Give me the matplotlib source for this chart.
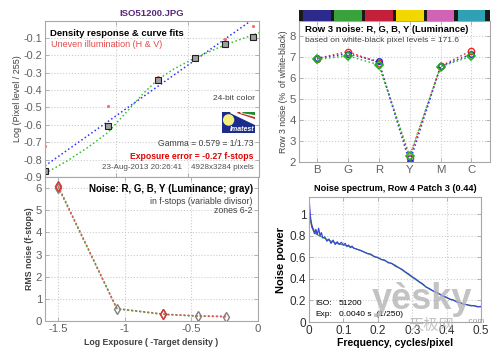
import numpy as np
import matplotlib.pyplot as plt
from matplotlib.patches import Polygon, Ellipse

plt.rcParams['font.family'] = ['Liberation Sans', 'DejaVu Sans']
plt.rcParams['axes.edgecolor'] = '#a8a8a8'
plt.rcParams['xtick.color'] = '#a8a8a8'
plt.rcParams['ytick.color'] = '#a8a8a8'
plt.rcParams['xtick.labelcolor'] = '#606060'
plt.rcParams['ytick.labelcolor'] = '#606060'
plt.rcParams['xtick.direction'] = 'in'
plt.rcParams['ytick.direction'] = 'in'
plt.rcParams['xtick.top'] = True
plt.rcParams['ytick.right'] = True
plt.rcParams['xtick.major.size'] = 3
plt.rcParams['ytick.major.size'] = 3

# density response (top left)
dens_x = [-1.5, -1.06, -0.71, -0.45, -0.24, -0.04]
dens_y = [-0.865, -0.605, -0.34, -0.215, -0.135, -0.094]
uneven_x = [-1.5, -1.06, -0.71, -0.45, -0.24, -0.04]
uneven_y = [-0.72, -0.49, -0.325, -0.21, -0.105, -0.03]
fit_x = [-1.5, 0.0]
fit_y = [-0.836, 0.032]
curve_x = [-1.5, -1.35, -1.2, -1.06, -0.9, -0.8, -0.71, -0.6, -0.45, -0.35, -0.24, -0.12, 0.0]
curve_y = [-0.88, -0.81, -0.73, -0.645, -0.5, -0.41, -0.34, -0.28, -0.215, -0.18, -0.14, -0.105, -0.07]

# noise in f-stops (bottom left)
fstop_x = [-1.5, -1.06, -0.71, -0.45, -0.24]
fstop_gray = [6.02, 0.55, 0.30, 0.22, 0.20]
fstop_red = [6.08, 0.56, 0.31, 0.23, 0.20]
fstop_green = [6.05, 0.55, 0.30, 0.22, 0.20]

# row 3 noise (top right)
patches = ['B', 'G', 'R', 'Y', 'M', 'C']
patch_colors = ['#2c2a8c', '#3aa23a', '#c4203c', '#f2d800', '#d263b4', '#2ea2b4']
row3_red = [6.92, 7.25, 6.72, 2.22, 6.55, 7.30]
row3_green = [6.88, 7.05, 6.62, 2.30, 6.54, 7.03]
row3_blue = [6.93, 7.15, 6.78, 2.00, 6.55, 7.13]

# noise spectrum (bottom right)
freq = [0.0, 0.004, 0.008, 0.012, 0.016, 0.02, 0.024, 0.028, 0.032, 0.036, 0.04,
        0.046, 0.052, 0.058, 0.064, 0.07, 0.076, 0.082, 0.088, 0.094, 0.1,
        0.105, 0.11, 0.115, 0.12, 0.125, 0.13, 0.14, 0.15, 0.16, 0.17, 0.18, 0.19, 0.2,
        0.21, 0.22, 0.23, 0.24, 0.25, 0.26, 0.27, 0.28, 0.29, 0.3,
        0.31, 0.32, 0.33, 0.34, 0.35, 0.36, 0.37, 0.38, 0.39, 0.4,
        0.41, 0.42, 0.43, 0.44, 0.45, 0.46, 0.47, 0.48, 0.49, 0.5]
power_blue = [1.15, 0.98, 0.90, 0.86, 0.82, 0.86, 0.81, 0.87, 0.80, 0.83, 0.78,
              0.79, 0.75, 0.77, 0.73, 0.76, 0.72, 0.745, 0.72, 0.74, 0.715,
              0.73, 0.70, 0.715, 0.69, 0.705, 0.685, 0.675, 0.665, 0.65, 0.635, 0.63, 0.605, 0.60,
              0.58, 0.575, 0.55, 0.545, 0.52, 0.505, 0.49, 0.465, 0.445, 0.42,
              0.40, 0.375, 0.355, 0.325, 0.31, 0.29, 0.275, 0.26, 0.24, 0.23,
              0.21, 0.205, 0.185, 0.18, 0.165, 0.16, 0.15, 0.152, 0.14, 0.145]
green_f = [0.0, 0.005, 0.01, 0.02, 0.03, 0.05, 0.08, 0.12, 0.16, 0.2, 0.25, 0.3, 0.35, 0.4, 0.45, 0.5]
power_green = [1.0, 0.93, 0.88, 0.82, 0.80, 0.77, 0.73, 0.70, 0.65, 0.595, 0.53, 0.415, 0.305, 0.225, 0.165, 0.14]
red_f = [0.0, 0.004, 0.008, 0.014, 0.02]
power_red = [1.05, 0.95, 0.88, 0.84, 0.82]

fig = plt.figure(figsize=(5.0, 3.53), dpi=100)

def style(ax, fs=7.5):
    ax.tick_params(labelsize=fs, pad=2, width=0.6)
    for s in ax.spines.values():
        s.set_linewidth(0.8)
    ax.grid(True, color='#cccccc', linestyle=':', linewidth=0.8)

# ---- top left
ax1 = fig.add_axes([0.09, 0.4986, 0.428, 0.443])
ax1.plot(fit_x, fit_y, ':', color='#3030ff', lw=1.1)
ax1.plot(curve_x, curve_y, ':', color='#30c030', lw=1.1)
ax1.plot(uneven_x, uneven_y, '.', color='#f07070', ms=2.5)
ax1.plot(dens_x, dens_y, 's', color='#a0a0a0', mec='#202020', ms=5, mew=0.8)
ax1.set_xlim(-1.5, 0)
ax1.set_ylim(-0.9, 0)
ax1.set_xticks([-1.0, -0.5])
ax1.set_xticklabels([])
ax1.set_yticks(np.arange(-0.9, -0.05, 0.1))
ax1.set_yticklabels(['-0.9', '-0.8', '-0.7', '-0.6', '-0.5', '-0.4', '-0.3', '-0.2', '-0.1'])
style(ax1, 7.8)
ax1.set_ylabel('Log (Pixel level / 255)', fontsize=6.5, color='#404040', labelpad=1)
ax1.set_title('ISO51200.JPG', fontsize=6.8, fontweight='bold', color='#5a2a7a', pad=3)
ax1.text(0.023, 0.92, 'Density response & curve fits', transform=ax1.transAxes,
         fontsize=6.8, fontweight='bold', va='center')
ax1.text(0.03, 0.85, 'Uneven illumination (H & V)', transform=ax1.transAxes,
         fontsize=6.5, color='#e84848', va='center')
ax1.text(0.98, 0.505, '24-bit color', transform=ax1.transAxes, fontsize=6,
         color='#404040', ha='right', va='center')
ax1.text(0.975, 0.211, 'Gamma = 0.579 = 1/1.73', transform=ax1.transAxes, fontsize=6.2,
         color='#404040', ha='right', va='center')
ax1.text(0.975, 0.134, 'Exposure error = -0.27 f-stops', transform=ax1.transAxes, fontsize=6.2,
         color='#e00000', fontweight='bold', ha='right', va='center')
ax1.text(0.975, 0.058, '23-Aug-2013 20:26:41    4928x3284 pixels', transform=ax1.transAxes,
         fontsize=5.8, color='#505050', ha='right', va='center')

# imatest logo
lg = fig.add_axes([0.444, 0.623, 0.066, 0.06])
lg.set_xlim(0, 1)
lg.set_ylim(0, 1)
lg.set_facecolor('#1c2c8c')
lg.add_patch(Polygon([(0.25, 1), (1, 1), (1, 0.45)], color='white'))
lg.add_patch(Polygon([(0.45, 1), (1, 1), (1, 0.72)], color='#c03030'))
lg.add_patch(Polygon([(0.55, 1), (1, 1), (1, 0.8)], color='white'))
lg.add_patch(Polygon([(0.6, 1), (1, 1), (1, 0.88)], color='#208a30'))
lg.add_patch(Ellipse((0.2, 0.62), 0.3, 0.48, color='#f4f080'))
lg.text(0.6, 0.18, 'Imatest', color='white', fontsize=5, fontstyle='italic',
        fontweight='bold', ha='center', va='center')
lg.set_xticks([])
lg.set_yticks([])
for s in lg.spines.values():
    s.set_visible(False)

# ---- bottom left
ax2 = fig.add_axes([0.09, 0.0907, 0.426, 0.408])
ax2.plot(fstop_x, fstop_gray, ':', color='#909090', lw=1.1, marker='d', ms=5,
         mfc='none', mec='#808080', mew=1)
ax2.plot(fstop_x, fstop_green, ':', color='#40c040', lw=1.1)
ax2.plot(fstop_x, fstop_red, ':', color='#e05050', lw=1.1, marker='d', ms=5,
         mfc='none', mec='#e03030', mew=1, markevery=[0, 2])
ax2.set_xlim(-1.6, 0)
ax2.set_ylim(0, 6.5)
ax2.set_xticks([-1.5, -1.0, -0.5, 0])
ax2.set_xticklabels(['-1.5', '-1', '-0.5', '0'])
ax2.set_yticks(range(0, 7))
style(ax2, 8.2)
ax2.set_xlabel('Log Exposure ( -Target density )', fontsize=6.3, fontweight='bold',
               color='#404040', labelpad=3)
ax2.set_ylabel('RMS noise (f-stops)', fontsize=6.3, fontweight='bold', color='#404040', labelpad=1)
ax2.text(0.976, 0.917, 'Noise: R, G, B, Y (Luminance; gray)', transform=ax2.transAxes,
         fontsize=7, fontweight='bold', ha='right', va='center')
ax2.text(0.976, 0.833, 'in f-stops (variable divisor)', transform=ax2.transAxes,
         fontsize=6.3, color='#404040', ha='right', va='center')
ax2.text(0.976, 0.77, 'zones 6-2', transform=ax2.transAxes,
         fontsize=6.3, color='#404040', ha='right', va='center')

# ---- top right
pos = np.arange(1, len(patches) + 1)
ax3 = fig.add_axes([0.598, 0.5397, 0.382, 0.401])
ax3.plot(pos, row3_red, ':', color='#ff3030', lw=1.1, marker='o', ms=4.5,
         mfc='none', mec='#ff2020', mew=1)
ax3.plot(pos, row3_blue, ':', color='#3030ff', lw=1.1, marker='o', ms=4,
         mfc='none', mec='#2020e0', mew=1)
ax3.plot(pos, row3_green, ':', color='#30c030', lw=1.1, marker='D', ms=4,
         mfc='none', mec='#20b020', mew=1.2)
ax3.set_xlim(0.42, 6.6)
ax3.set_ylim(2, 8.7)
ax3.set_xticks(pos)
ax3.set_xticklabels(patches)
ax3.set_yticks(range(2, 9))
style(ax3, 8.2)
ax3.set_ylabel('Row 3 noise (%  of white-black)', fontsize=6.3, color='#404040', labelpad=1)
ax3.text(0.03, 0.936, 'Row 3 noise: R, G, B, Y (Luminance)', transform=ax3.transAxes,
         fontsize=6.8, fontweight='bold', va='center')
ax3.text(0.03, 0.859, 'based on white-black pixel levels = 171.6', transform=ax3.transAxes,
         fontsize=6.0, color='#404040', va='center')

# colour bar above top right
cb = fig.add_axes([0.598, 0.9405, 0.382, 0.031])
cb.set_facecolor('#1a1a1a')
cb.bar(pos, [1] * len(pos), width=0.9, color=patch_colors)
cb.set_xlim(0.42, 6.6)
cb.set_ylim(0, 1)
cb.set_xticks([])
cb.set_yticks([])
for s in cb.spines.values():
    s.set_visible(False)

# ---- bottom right
ax4 = fig.add_axes([0.618, 0.0878, 0.344, 0.354])
ax4.plot(red_f, power_red, color='#e02020', lw=0.8)
ax4.plot(green_f, power_green, color='#30b030', lw=0.8)
ax4.plot(freq, power_blue, color='#4040e0', lw=0.9)
ax4.set_xlim(0, 0.5)
ax4.set_ylim(0, 1.16)
ax4.set_xticks([0, 0.1, 0.2, 0.3, 0.4, 0.5])
ax4.set_xticklabels(['0', '0.1', '0.2', '0.3', '0.4', '0.5'])
ax4.set_yticks([0, 0.2, 0.4, 0.6, 0.8, 1.0])
ax4.set_yticklabels(['0', '0.2', '0.4', '0.6', '0.8', '1'])
style(ax4, 8.5)
ax4.tick_params(labelcolor='#303030')
ax4.set_title('Noise spectrum, Row 4 Patch 3 (0.44)', fontsize=6.6, fontweight='bold', pad=4)
ax4.set_xlabel('Frequency, cycles/pixel', fontsize=7.5, fontweight='bold', labelpad=1)
ax4.set_ylabel('Noise power', fontsize=8, fontweight='bold', labelpad=3)
ax4.text(0.035, 0.152, 'ISO:', transform=ax4.transAxes, fontsize=6, va='center')
ax4.text(0.174, 0.152, '51200', transform=ax4.transAxes, fontsize=6, va='center')
ax4.text(0.035, 0.064, 'Exp:', transform=ax4.transAxes, fontsize=6, va='center')
ax4.text(0.174, 0.064, '0.0040 s  (1/250)', transform=ax4.transAxes, fontsize=6, va='center')

# watermark
fig.text(0.843, 0.152, 'yèsky', fontsize=26, fontweight='bold', color='#b4b4b4',
         alpha=0.8, ha='center', va='center')
fig.text(0.862, 0.078, '天极网', fontsize=11, color='#b4b4b4', alpha=0.8,
         family=['Noto Sans CJK SC', 'DejaVu Sans'], ha='center', va='center')
fig.text(0.95, 0.09, '.com', fontsize=6, color='#a0a0a0', ha='center', va='center')

fig.savefig('out.png', dpi=100)
